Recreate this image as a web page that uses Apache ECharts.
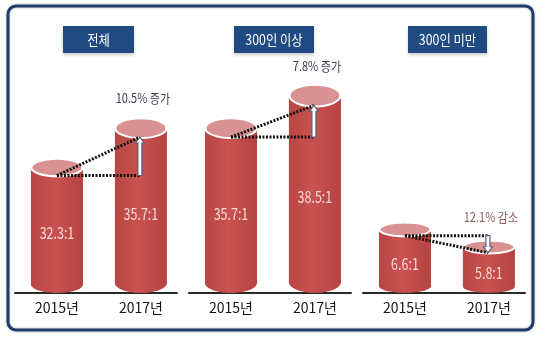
<!DOCTYPE html>
<html>
<head>
<meta charset="utf-8">
<script src="https://cdn.jsdelivr.net/npm/echarts@6/dist/echarts.min.js"></script>
<style>
  html, body { margin: 0; padding: 0; background: #ffffff; }
  #chart { width: 540px; height: 340px; }
</style>
</head>
<body>
<div id="chart"></div>
<script>
// Job-seeker-per-opening ratios, 2015 vs 2017
const years = ['2015년', '2017년'];
const panelTitles = ['전체', '300인 이상', '300인 미만'];
const ratioTotal = [32.3, 35.7];
const ratioLarge = [35.7, 38.5];
const ratioSmall = [6.6, 5.8];
const changeNotes = ['10.5% 증가', '7.8% 증가', '12.1% 감소'];

const panelData = [ratioTotal, ratioLarge, ratioSmall];

const NARROW = "'Liberation Sans Narrow', 'Noto Sans CJK KR', sans-serif";
const KR = "'Noto Sans CJK KR', sans-serif";

// grid placement of each panel and the (non-zero) value range of its axis
const panelLayout = [
  { left: 15,  top: 78.2, height: 214.8, yMin: 21.5, yMax: 40 },
  { left: 189, top: 78.2, height: 214.8, yMin: 21.5, yMax: 40 },
  { left: 363, top: 155,  height: 138,   yMin: 3.7,  yMax: 10 }
];
const noteColors = ['#3c4150', '#3c4150', '#8d5d5d'];

function ellipseRy(h) { return 5 + 0.03 * h; }

function cylinderItem(params, api) {
  const idx = api.value(0);
  const val = api.value(1);
  const top = api.coord([idx, val]);
  const cs = params.coordSys;
  const baseY = cs.y + cs.height;
  const w = api.size([0.62, 0])[0];
  const rx = w / 2;
  const cx = top[0];
  const h = baseY - top[1];
  const ry = ellipseRy(h);
  const bodyFill = {
    type: 'linear', x: 0, y: 0, x2: 1, y2: 0,
    colorStops: [
      { offset: 0, color: '#b94644' },
      { offset: 0.45, color: '#c8524f' },
      { offset: 1, color: '#b64442' }
    ]
  };
  return {
    type: 'group',
    children: [
      { type: 'ellipse', shape: { cx: cx, cy: baseY - ry, rx: rx, ry: ry },
        style: { fill: bodyFill } },
      { type: 'rect', shape: { x: cx - rx, y: top[1], width: w, height: baseY - ry - top[1] },
        style: { fill: bodyFill } },
      { type: 'ellipse', shape: { cx: cx, cy: top[1], rx: rx - 0.5, ry: ry },
        style: { fill: '#d99291', stroke: '#ffffff', lineWidth: 2 } },
      { type: 'text',
        x: cx, y: (top[1] + baseY) / 2 + 3, scaleX: 0.78,
        style: {
          text: val.toFixed(1) + ':1',
          x: 0, y: 0,
          align: 'center', verticalAlign: 'middle',
          fill: '#f6d9d8', fontSize: 16, fontFamily: NARROW
        } }
    ]
  };
}

function connectorItem(note, noteColor) {
  return function (params, api) {
    const v0 = api.value(0);
    const v1 = api.value(1);
    const cs = params.coordSys;
    const baseY = cs.y + cs.height;
    const p0 = api.coord([0, v0]);
    const p1 = api.coord([1, v1]);
    const a = [p0[0], p0[1] + ellipseRy(baseY - p0[1]) * 0.9];
    const bx = p1[0] - 1;
    const b = [bx, p1[1] + ellipseRy(baseY - p1[1]) * 0.9];
    const dir = b[1] > a[1] ? 1 : -1;
    const headLen = 6, sh = 2, hh = 4.5;
    const neck = b[1] - dir * headLen;
    const dotted = { stroke: '#111111', lineWidth: 3, lineDash: [2, 1.5], fill: null };
    return {
      type: 'group',
      children: [
        { type: 'line', shape: { x1: a[0], y1: a[1], x2: bx, y2: a[1] }, style: dotted },
        { type: 'line', shape: { x1: a[0], y1: a[1], x2: b[0], y2: b[1] }, style: dotted },
        { type: 'polygon',
          shape: { points: [
            [bx - sh, a[1]], [bx - sh, neck], [bx - hh, neck], [bx, b[1]],
            [bx + hh, neck], [bx + sh, neck], [bx + sh, a[1]]
          ] },
          style: { fill: '#ffffff', stroke: '#59627a', lineWidth: 1.2 } },
        { type: 'text',
          x: p1[0] + 2, y: p1[1] - 30, scaleX: 0.85,
          style: {
            text: note, x: 0, y: 0,
            align: 'center', verticalAlign: 'middle',
            fill: noteColor, fontSize: 13, fontFamily: NARROW
          } }
      ]
    };
  };
}

const grids = [], xAxes = [], yAxes = [], series = [];
panelLayout.forEach(function (p, i) {
  grids.push({ left: p.left, width: 162, top: p.top, height: p.height });
  xAxes.push({
    type: 'value', gridIndex: i, min: -0.5, max: 1.43,
    axisLine: { show: true, lineStyle: { color: '#2a2a2a', width: 2 } },
    axisTick: { show: false },
    splitLine: { show: false },
    axisLabel: {
      customValues: [0, 1],
      formatter: function (v) { return years[Math.round(v)]; },
      margin: 8, color: '#151515', fontSize: 14, fontFamily: NARROW
    }
  });
  yAxes.push({ type: 'value', gridIndex: i, min: p.yMin, max: p.yMax, show: false });
  series.push({
    type: 'custom', xAxisIndex: i, yAxisIndex: i, clip: false, z: 3,
    renderItem: cylinderItem,
    data: panelData[i].map(function (v, k) { return [k, v]; })
  });
  series.push({
    type: 'custom', xAxisIndex: i, yAxisIndex: i, clip: false, z: 5,
    renderItem: connectorItem(changeNotes[i], noteColors[i]),
    data: [[panelData[i][0], panelData[i][1]]]
  });
});

// panel title boxes
const titleBoxes = [
  { x: 63, w: 71 }, { x: 234, w: 80 }, { x: 408, w: 79 }
];
const graphics = [
  { type: 'rect', shape: { x: 8, y: 6, width: 525, height: 324, r: 8 },
    style: { fill: null, stroke: '#1f3b6b', lineWidth: 3,
             shadowBlur: 3, shadowColor: 'rgba(0,0,0,0.25)' }, z: 1 }
];
titleBoxes.forEach(function (t, i) {
  graphics.push({
    type: 'group', left: t.x, top: 26,
    children: [
      { type: 'rect', shape: { x: 0, y: 0, width: t.w, height: 27 },
        style: { fill: '#1f4b82', shadowBlur: 3, shadowColor: 'rgba(0,0,0,0.2)', shadowOffsetY: 2 } },
      { type: 'text', x: t.w / 2, y: 13.5, scaleX: 0.88,
        style: { text: panelTitles[i], x: 0, y: 0, align: 'center', verticalAlign: 'middle',
                 fill: '#ffffff', fontSize: 14, fontFamily: KR } }
    ]
  });
});

const chart = echarts.init(document.getElementById('chart'), null, { renderer: 'canvas' });
chart.setOption({
  backgroundColor: '#ffffff',
  animation: false,
  grid: grids,
  xAxis: xAxes,
  yAxis: yAxes,
  series: series,
  graphic: graphics
});
</script>
</body>
</html>
